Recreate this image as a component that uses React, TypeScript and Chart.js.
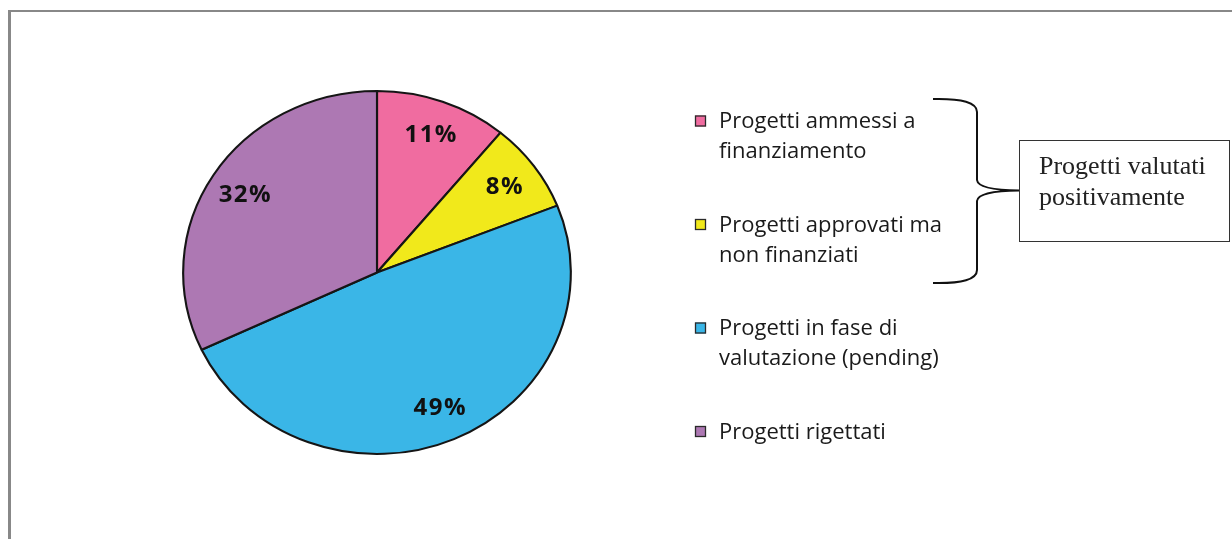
import React, { useEffect, useRef } from "react";
import { Chart, registerables } from "chart.js";

Chart.register(...registerables);

// ---- data ----
const categories: string[][] = [
  ["Progetti ammessi a", "finanziamento"],
  ["Progetti approvati ma", "non finanziati"],
  ["Progetti in fase di", "valutazione (pending)"],
  ["Progetti rigettati"],
];
const shares: number[] = [11, 8, 49, 32];
const sliceColors: string[] = ["#F06CA0", "#F1E91B", "#3AB6E7", "#AD78B3"];
const calloutLines: string[] = ["Progetti valutati", "positivamente"];

// horizontal stretch of the pie (the reference pie is slightly elliptical)
const SX = 1.068;
const LABEL_R = 0.81;

const framePlugin = {
  id: "frame",
  beforeDraw(chart: any) {
    const ctx = chart.ctx;
    ctx.save();
    ctx.fillStyle = "#ffffff";
    ctx.fillRect(0, 0, chart.width, chart.height);
    ctx.fillStyle = "#888888";
    ctx.fillRect(8, 10, chart.width - 8, 2);
    ctx.fillRect(8, 10, 3, chart.height - 10);
    ctx.restore();
  },
};

const stretchPlugin = {
  id: "stretch",
  beforeDatasetsDraw(chart: any) {
    const meta = chart.getDatasetMeta(0);
    const cx = meta.data[0].x;
    const ctx = chart.ctx;
    ctx.save();
    ctx.translate(cx, 0);
    ctx.scale(SX, 1);
    ctx.translate(-cx, 0);
  },
  afterDatasetsDraw(chart: any) {
    const ctx = chart.ctx;
    ctx.restore();
    const meta = chart.getDatasetMeta(0);
    const values = chart.data.datasets[0].data as number[];
    const total = values.reduce((s, v) => s + v, 0);
    ctx.save();
    ctx.font = "bold 24px 'Open Sans'";
    (ctx as any).letterSpacing = "1.5px";
    ctx.fillStyle = "#111111";
    ctx.textAlign = "center";
    ctx.textBaseline = "middle";
    meta.data.forEach((arc: any, i: number) => {
      const mid = (arc.startAngle + arc.endAngle) / 2;
      const r = arc.outerRadius * LABEL_R;
      const x = arc.x + Math.cos(mid) * r * SX;
      const y = arc.y + Math.sin(mid) * r;
      const pct = Math.round((values[i] / total) * 100);
      ctx.fillText(pct + "%", x + 1, y + 1);
    });
    ctx.restore();
  },
};

const sideLegendPlugin = {
  id: "sideLegend",
  afterDraw(chart: any) {
    const ctx = chart.ctx;
    const labels = chart.data.labels as string[][];
    const colors = chart.data.datasets[0].backgroundColor as string[];
    const x0 = 695;
    const firstBaseline = 128;
    const itemStep = 103.5;
    const lineStep = 30;
    ctx.save();
    ctx.font = "22px 'Open Sans'";
    ctx.textBaseline = "alphabetic";
    ctx.textAlign = "left";
    labels.forEach((lines, i) => {
      const base = firstBaseline + i * itemStep;
      ctx.fillStyle = colors[i];
      ctx.fillRect(x0, base - 12.5, 11, 11);
      ctx.strokeStyle = "#2a2a2a";
      ctx.lineWidth = 1.3;
      ctx.strokeRect(x0 + 0.5, base - 12, 10, 10);
      ctx.fillStyle = "#1a1a1a";
      lines.forEach((ln, j) => {
        ctx.fillText(ln, 719, base + j * lineStep);
      });
    });

    // curly brace grouping the first two items
    ctx.strokeStyle = "#111111";
    ctx.lineWidth = 2;
    ctx.beginPath();
    ctx.moveTo(933, 99);
    ctx.quadraticCurveTo(977, 98, 977, 112);
    ctx.lineTo(977, 180);
    ctx.quadraticCurveTo(978, 190, 1019, 190.5);
    ctx.quadraticCurveTo(978, 191, 977, 201);
    ctx.lineTo(977, 270);
    ctx.quadraticCurveTo(977, 284, 933, 283);
    ctx.stroke();

    // callout box
    ctx.fillStyle = "#ffffff";
    ctx.fillRect(1019, 140, 211, 102);
    ctx.strokeStyle = "#333333";
    ctx.lineWidth = 1;
    ctx.strokeRect(1019.5, 140.5, 210, 101);
    ctx.fillStyle = "#222222";
    ctx.font = "26px 'Liberation Serif'";
    calloutLines.forEach((ln, j) => {
      ctx.fillText(ln, 1039, 174 + j * 31);
    });
    ctx.restore();
  },
};

export default function App() {
  const canvasRef = useRef<HTMLCanvasElement | null>(null);

  useEffect(() => {
    if (!canvasRef.current) return;
    const chart = new Chart(canvasRef.current, {
      type: "pie",
      data: {
        labels: categories as any,
        datasets: [
          {
            data: shares,
            backgroundColor: sliceColors,
            borderColor: "#151515",
            borderWidth: 2,
            clip: false as any,
          },
        ],
      },
      options: {
        animation: false,
        responsive: true,
        maintainAspectRatio: false,
        layout: { padding: { left: 177, right: 655, top: 90, bottom: 84 } },
        plugins: {
          legend: { display: false },
          tooltip: { enabled: false },
          title: { display: false },
        },
      },
      plugins: [framePlugin, stretchPlugin, sideLegendPlugin],
    });
    return () => chart.destroy();
  }, []);

  return (
    <div style={{ position: "absolute", left: 0, top: 0, width: 1232, height: 539 }}>
      <canvas ref={canvasRef} />
    </div>
  );
}
